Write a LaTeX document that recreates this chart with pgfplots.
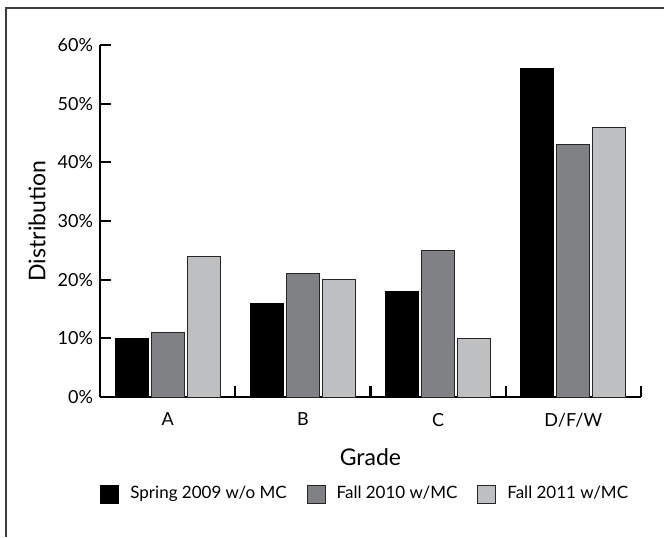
\documentclass[border=0pt]{standalone}
\usepackage{pgfplots}
\pgfplotsset{compat=1.18}
\usepackage{fontspec}
\setmainfont{Lato}
\definecolor{cgray}{HTML}{808185}
\definecolor{clight}{HTML}{BEBFC1}
\definecolor{frameclr}{HTML}{3C3C3C}
\pgfplotsset{mysq/.style={legend image code/.code={\draw[##1] (0pt,-4.5pt) rectangle (9pt,4.5pt);}}}
\begin{document}
\begin{tikzpicture}[x=1pt,y=1pt]
\path[use as bounding box] (0,0) rectangle (332,268.5);
\draw[frameclr, line width=0.6pt] (3,0) -- (3,264.5) -- (332,264.5);
\begin{axis}[
 at={(50pt,70pt)}, anchor=south west,
 scale only axis, width=270.5pt, height=176pt,
 ybar=1.5pt, bar width=16.5pt,
 xmin=-0.5, xmax=3.5, ymin=0, ymax=60,
 axis x line*=bottom, axis y line*=left,
 axis line style={line width=1.1pt, black},
 xtick={-0.5,0.5,1.5,2.5,3.5},
 x tick label as interval=true,
 xticklabels={A,B,C,D/F/W},
 ytick={0,10,...,60},
 yticklabel={\pgfmathprintnumber{\tick}\%},
 /pgf/number format/assume math mode=true,
 tick align=inside, major tick length=5.5pt,
 tick style={line width=1.1pt, black},
 ticklabel style={font=\fontsize{9}{11}\selectfont},
 xticklabel style={yshift=-4.5pt},
 xlabel={Grade}, ylabel={Distribution},
 label style={font=\fontsize{11.5}{13}\selectfont},
 xlabel style={at={(axis description cs:0.5,-0.1705)}, anchor=center},
 ylabel style={at={(axis description cs:-0.1165,0.5)}, anchor=center},
 legend columns=3,
 legend style={at={(axis description cs:0,-0.2756)}, anchor=west, draw=none, fill=none,
   xshift=-3pt,
   font=\fontsize{8.5}{10}\selectfont,
   /tikz/every odd column/.append style={column sep=3.5pt},
   /tikz/every even column/.append style={column sep=8pt}},
]
\addplot[fill=black, draw=black, line width=0.5pt, mysq]
  coordinates {(0,10) (1,16) (2,18) (3,56)};
\addplot[fill=cgray, draw=black!85, line width=0.5pt, mysq]
  coordinates {(0,11) (1,21) (2,25) (3,43)};
\addplot[fill=clight, draw=black!85, line width=0.5pt, mysq]
  coordinates {(0,24) (1,20) (2,10) (3,46)};
\legend{Spring 2009 w/o MC, Fall 2010 w/MC\hspace{11pt}, Fall 2011 w/MC}
\end{axis}
\end{tikzpicture}
\end{document}
